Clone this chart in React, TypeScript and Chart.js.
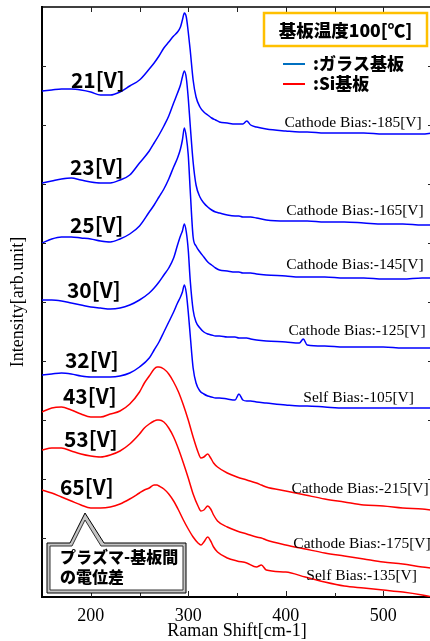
import React, { useEffect, useRef } from "react";
import { Chart, registerables } from "chart.js";
Chart.register(...registerables);

// Raman shift (cm-1) sampling for the blue (glass substrate) spectra
const blueX = [150,160,170,180,190,200,210,220,230,240,250,260,265,270,275,280,285,289,292,294,296,298,300,302,305,308,312,316,320,324,328,332,340,348,352,356,360,364,370,380,400,414,418,422,440,460,480,500,520,540,550];
// Raman shift (cm-1) sampling for the red (Si substrate) spectra
const redX = [150,160,170,180,190,200,210,220,230,240,250,255,260,265,268,270,275,280,285,290,295,300,305,310,313,316,320,323,326,330,340,350,360,370,375,380,400,420,440,460,480,500,520,540,550];

// Intensity (arb. unit, stacked) — glass substrate
const v21 = [506,507,508,508,507,505,502,502,505,511,517,528,534,541,549,555,561,565,570,577,584,580,565,547,517,500,490,485,482,479,477,475,474,473,473,473,476,472,470,468,466,465,465,465,464,464,464,463,463,463,464];
const v23 = [414,416,418,419,417,415,414,414,417,422,434,446,454,462,471,481,494,504,512,520,526,519,499,472,435,412,400,394,390,387,385,384,382,381,381,380,380,380,379,377,376,376,376,376,375,375,374,373,373,372,372];
const v25 = [354,358,360,360,359,358,356,355,358,363,371,385,392,400,408,418,430,439,448,457,469,460,442,407,360,351,345,340,335,332,329,327,326,325,325,324,324,324,323,322,321,320,320,320,320,319,319,318,318,319,319];
const v30 = [297,297,296,294,292,290,289,288,289,292,297,304,309,315,322,329,339,352,361,366,373,365,347,317,287,275,269,265,263,262,261,261,260,260,259,259,259,258,257,256,255,254,258,252,251,250,250,250,249,249,249];
const v32 = [222,223,224,223,221,220,220,220,221,224,230,239,247,255,265,275,285,294,300,305,312,304,285,262,229,214,206,203,201,200,199,199,198,197,203,197,196,196,195,194,192,191,191,191,190,189,189,189,189,189,189];
// Intensity (arb. unit, stacked) — Si substrate
const v43 = [185,189,190,187,183,180,180,183,186,193,205,214,221,228,230,230,228,223,215,205,192,177,160,145,139,140,143,139,134,130,124,120,117,114,112,110,106,102,98,95,92,91,89,88,87];
const v53 = [147,149,149,146,143,141,140,142,146,153,163,169,173,176,177,177,175,169,160,148,134,119,103,91,86,87,91,88,82,76,70,66,63,60,59,57,52,48,44,41,38,35,33,30,29];
const v65 = [107,104,100,96,92,89,89,90,93,98,104,107,109,112,112,111,108,103,96,87,77,68,60,54,52,55,60,56,50,45,39,36,34,30,32,27,25,20,15,11,9,7,5,2,0];

const voltLabels = ["21[V]", "23[V]", "25[V]", "30[V]", "32[V]", "43[V]", "53[V]", "65[V]"];
const biasLabels = [
  "Cathode Bias:-185[V]",
  "Cathode Bias:-165[V]",
  "Cathode Bias:-145[V]",
  "Cathode Bias:-125[V]",
  "Self Bias:-105[V]",
  "Cathode Bias:-215[V]",
  "Cathode Bias:-175[V]",
  "Self Bias:-135[V]",
];
const tempTitle = "基板温度100[℃]";
const legendGlass = ":ガラス基板";
const legendSi = ":Si基板";
const calloutLines = ["プラズマ-基板間", "の電位差"];
const xTitle = "Raman Shift[cm-1]";
const yTitle = "Intensity[arb.unit]";

// label anchor positions, in data coordinates (x: cm-1, y: intensity)
const voltPos = [[179.7, 517], [178.6, 430], [178.6, 372], [175.6, 307], [173.5, 237], [171.5, 201], [172.5, 158], [168.4, 110]];
const biasPos = [[398.6, 474], [400.6, 386], [400.6, 332], [402.7, 266], [418, 199], [405.8, 108], [407.8, 53], [421.1, 21]];

const BLUE = "#0000ff";
const RED = "#ff0000";
const JP = '"Noto Sans CJK JP", "Noto Sans", sans-serif';
const SERIF = '"Liberation Serif", "DejaVu Serif", serif';

const deco = {
  id: "deco",
  afterDatasetsDraw(chart: any) {
    const { ctx, chartArea: a, scales } = chart;
    const x = scales.x;
    const y = scales.y;
    ctx.save();
    // top and right frame
    ctx.strokeStyle = "#000";
    ctx.lineWidth = 1.5;
    ctx.beginPath();
    ctx.moveTo(a.left, a.top);
    ctx.lineTo(a.right, a.top);
    ctx.lineTo(a.right, a.bottom);
    ctx.stroke();
    // inward ticks
    ctx.lineWidth = 1;
    ctx.strokeStyle = "#222";
    x.ticks.forEach((t: any) => {
      if (t.value <= x.min || t.value >= x.max) return;
      const px = Math.round(x.getPixelForValue(t.value)) + 0.5;
      const len = t.value % 100 === 0 ? 6 : 4;
      ctx.beginPath();
      ctx.moveTo(px, a.bottom);
      ctx.lineTo(px, a.bottom - len);
      ctx.moveTo(px, a.top);
      ctx.lineTo(px, a.top + 5);
      ctx.stroke();
    });
    y.ticks.forEach((t: any) => {
      if (t.value <= y.min || t.value >= y.max) return;
      const py = Math.round(y.getPixelForValue(t.value)) + 0.5;
      ctx.beginPath();
      ctx.moveTo(a.left, py);
      ctx.lineTo(a.left + 4, py);
      ctx.moveTo(a.right, py);
      ctx.lineTo(a.right - 4, py);
      ctx.stroke();
    });

    // voltage labels
    ctx.fillStyle = "#000";
    ctx.textBaseline = "middle";
    ctx.textAlign = "left";
    ctx.font = `bold 21px ${JP}`;
    voltLabels.forEach((s, i) => {
      ctx.fillText(s, x.getPixelForValue(voltPos[i][0]), y.getPixelForValue(voltPos[i][1]));
    });
    // bias labels
    ctx.font = `15.5px ${SERIF}`;
    biasLabels.forEach((s, i) => {
      ctx.fillText(s, x.getPixelForValue(biasPos[i][0]), y.getPixelForValue(biasPos[i][1]));
    });

    // temperature box
    ctx.fillStyle = "#fff";
    ctx.fillRect(264, 13, 163, 33);
    ctx.strokeStyle = "#FFC000";
    ctx.lineWidth = 2.5;
    ctx.strokeRect(264, 13, 163, 33);
    ctx.fillStyle = "#000";
    ctx.textAlign = "center";
    ctx.font = `900 17.5px ${JP}`;
    ctx.fillText(tempTitle, 345.5, 30);

    // legend
    ctx.lineWidth = 2;
    ctx.strokeStyle = "#0070C0";
    ctx.beginPath();
    ctx.moveTo(283, 64);
    ctx.lineTo(305, 64);
    ctx.stroke();
    ctx.strokeStyle = RED;
    ctx.beginPath();
    ctx.moveTo(283, 84);
    ctx.lineTo(305, 84);
    ctx.stroke();
    ctx.textAlign = "left";
    ctx.font = `900 17px ${JP}`;
    ctx.fillText(legendGlass, 313, 64);
    ctx.fillText(legendSi, 313, 84);

    // callout
    const outer = [[47, 543], [70, 543], [85, 513], [104, 543], [186, 543], [186, 593], [47, 593]];
    const inner = [[50, 546], [72, 546], [85, 520], [101, 546], [183, 546], [183, 590], [50, 590]];
    const path = (pts: number[][]) => {
      ctx.beginPath();
      pts.forEach((p, i) => (i === 0 ? ctx.moveTo(p[0], p[1]) : ctx.lineTo(p[0], p[1])));
      ctx.closePath();
    };
    path(outer);
    ctx.fillStyle = "#c4c4c4";
    ctx.fill();
    ctx.strokeStyle = "#000";
    ctx.lineWidth = 1;
    ctx.stroke();
    path(inner);
    ctx.fillStyle = "#fff";
    ctx.fill();
    ctx.strokeStyle = "#333";
    ctx.stroke();
    ctx.fillStyle = "#000";
    ctx.font = `900 16px ${JP}`;
    ctx.fillText(calloutLines[0], 60, 557);
    ctx.fillText(calloutLines[1], 60, 577);
    ctx.restore();
  },
};

function series(xs: number[], ys: number[]) {
  return xs.map((x, i) => ({ x, y: ys[i] }));
}

export default function App() {
  const ref = useRef<HTMLCanvasElement>(null);
  useEffect(() => {
    const mk = (d: number[], xs: number[], c: string) => ({
      data: series(xs, d),
      borderColor: c,
      borderWidth: 1.5,
      pointRadius: 0,
      fill: false,
      cubicInterpolationMode: "monotone" as const,
    });
    const chart = new Chart(ref.current!, {
      type: "line",
      data: {
        datasets: [
          mk(v21, blueX, BLUE),
          mk(v23, blueX, BLUE),
          mk(v25, blueX, BLUE),
          mk(v30, blueX, BLUE),
          mk(v32, blueX, BLUE),
          mk(v43, redX, RED),
          mk(v53, redX, RED),
          mk(v65, redX, RED),
        ],
      },
      options: {
        animation: false,
        responsive: false,
        devicePixelRatio: 1,
        layout: { padding: { left: 0, top: 7, right: 7, bottom: 0 } },
        plugins: { legend: { display: false }, tooltip: { enabled: false } },
        scales: {
          x: {
            type: "linear",
            min: 150,
            max: 550,
            grid: { display: false, drawTicks: false },
            border: { display: true, color: "#000", width: 2 },
            ticks: {
              stepSize: 50,
              autoSkip: false,
              maxRotation: 0,
              padding: 8,
              color: "#000",
              font: { family: SERIF, size: 18 },
              callback: (v: any) => (Number(v) % 100 === 0 ? String(v) : ""),
            },
            title: {
              display: true,
              text: xTitle,
              color: "#000",
              font: { family: SERIF, size: 18 },
              padding: { top: 0, bottom: -1 },
            },
            afterFit: (s: any) => {
              s.height = 44;
            },
          },
          y: {
            type: "linear",
            min: 0,
            max: 590,
            grid: { display: false, drawTicks: false },
            border: { display: true, color: "#000", width: 2 },
            ticks: { display: false, stepSize: 59 },
            title: {
              display: true,
              text: yTitle,
              color: "#000",
              font: { family: SERIF, size: 18 },
              padding: { top: 7.5, bottom: 0 },
            },
            afterFit: (s: any) => {
              s.width = 42;
            },
          },
        },
      },
      plugins: [deco],
    });
    return () => chart.destroy();
  }, []);
  return (
    <div
      style={{
        position: "fixed",
        left: 0,
        top: 0,
        width: 430,
        height: 641,
        overflow: "hidden",
        background: "#fff",
      }}
    >
      <canvas ref={ref} width={440} height={641} style={{ display: "block" }} />
    </div>
  );
}
